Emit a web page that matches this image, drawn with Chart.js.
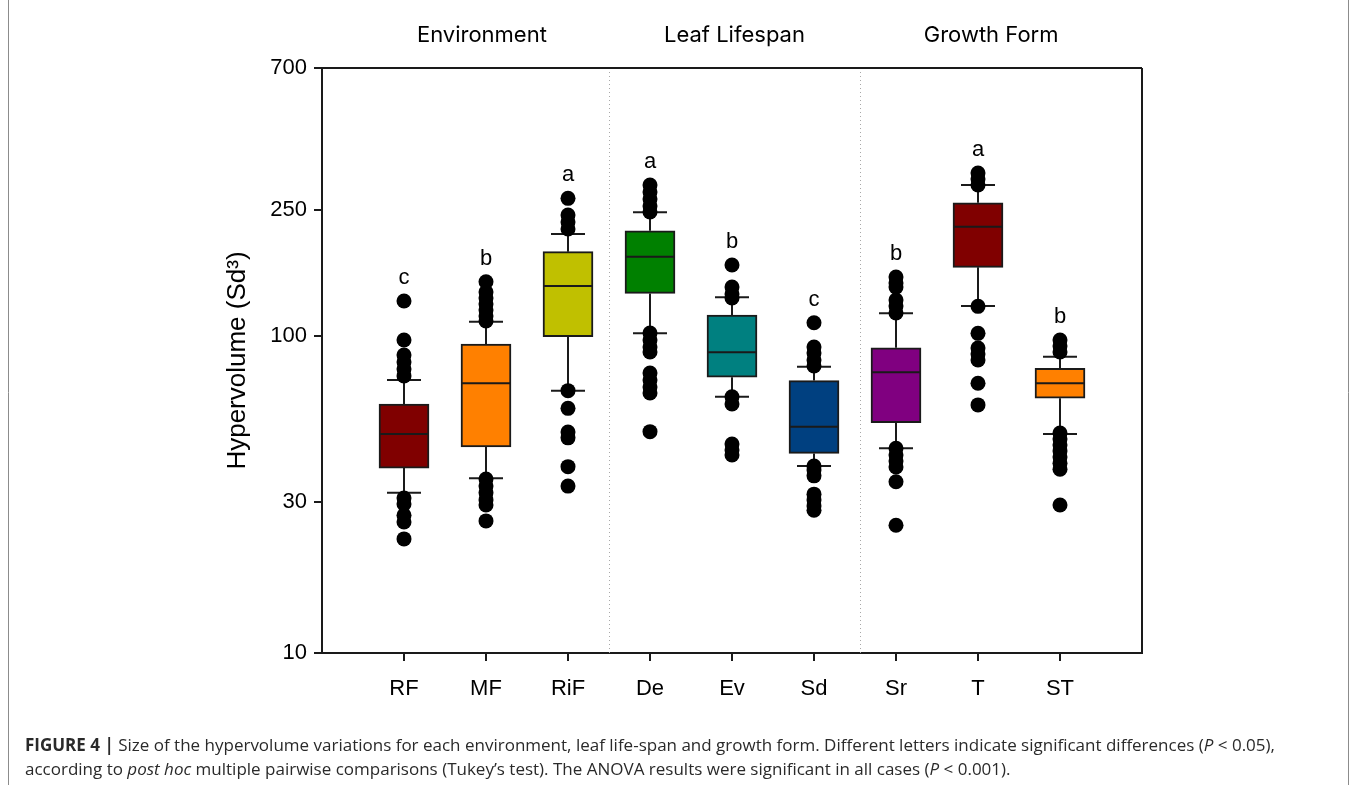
<!DOCTYPE html>
<html>
<head>
<meta charset="utf-8">
<script src="https://cdn.jsdelivr.net/npm/chart.js@4.4.0/dist/chart.umd.min.js"></script>
<style>
html, body { margin: 0; padding: 0; background: #fff; }
</style>
</head>
<body>
<canvas id="grafica" width="1357" height="785"></canvas>
<script>
// Categorías y colores de cada caja
var categories = ["RF", "MF", "RiF", "De", "Ev", "Sd", "Sr", "T", "ST"];
var boxColors = ["#800000", "#ff8000", "#c0c000", "#008000", "#008080", "#004080", "#800080", "#800000", "#ff8000"];

// Resumen de cada caja
var lowerWhisker = [32.0, 35.6, 67.2, 101.9, 64.3, 38.9, 44.2, 124.3, 49.1];
var q1 = [38.3, 44.7, 99.4, 136.2, 74.1, 42.6, 53.3, 164.6, 63.6];
var median = [49.1, 70.9, 143.7, 177.8, 88.8, 51.7, 76.8, 221.1, 70.9];
var q3 = [61.0, 94.3, 184.4, 214.7, 116.4, 72.3, 91.8, 263.1, 79.1];
var upperWhisker = [72.6, 110.9, 209.6, 245.5, 132.4, 80.0, 117.9, 299.2, 86.0];

// Valores atípicos por categoría
var outliers = [
    [128.9, 97.1, 87.1, 82.7, 78.6, 74.8, 30.8, 29.5, 27.2, 25.9, 22.9],
    [148.3, 137.6, 131.7, 126.1, 120.7, 115.6, 111.5, 35.4, 33.6, 32.0, 30.4, 29.3, 26.1],
    [271.6, 240.6, 228.7, 217.5, 67.2, 59.1, 49.8, 47.7, 38.7, 33.6],
    [299.2, 284.5, 270.4, 257.0, 246.0, 102.2, 97.1, 92.3, 89.0, 76.4, 72.6, 69.0, 66.1, 49.9],
    [167.4, 142.7, 135.6, 131.7, 64.3, 61.0, 45.6, 43.7, 42.1],
    [110.1, 92.3, 88.3, 84.0, 80.4, 38.9, 37.8, 36.2, 31.7, 30.4, 29.1, 28.2],
    [153.4, 146.9, 142.6, 129.8, 124.3, 118.1, 44.2, 42.1, 40.3, 38.6, 34.7, 25.3],
    [326.6, 312.6, 299.2, 124.0, 101.9, 91.6, 87.7, 84.0, 70.9, 60.6],
    [97.1, 92.9, 89.0, 49.4, 47.3, 45.3, 43.4, 41.5, 39.7, 38.0, 29.3]
];

var letters = ["c", "b", "a", "a", "b", "c", "b", "a", "b"];
var yTicks = [10, 30, 100, 250, 700];

var groups = ["Environment", "Leaf Lifespan", "Growth Form"];
var groupCenters = [1.95, 5.03, 8.16];
var groupBreaks = [3.5, 6.56];

var yTitle = "Hypervolume (Sd\u00b3)";

var lineColor = "#1a1a1a";

var outlierPoints = [];
outliers.forEach(function (vals, i) {
    vals.forEach(function (v) {
        outlierPoints.push({ x: i + 1, y: v });
    });
});

var boxData = categories.map(function (c, i) {
    return { x: i + 1, y: [q1[i], q3[i]] };
});

function line(ctx, x1, y1, x2, y2) {
    ctx.beginPath();
    ctx.moveTo(x1, y1);
    ctx.lineTo(x2, y2);
    ctx.stroke();
}

// bigotes, medianas, letras y textos
var boxPlugin = {
    id: "boxPlugin",
    beforeDatasetsDraw: function (chart) {
        var ctx = chart.ctx, xs = chart.scales.x, ys = chart.scales.y, area = chart.chartArea;
        ctx.save();
        ctx.strokeStyle = "#a8a8a8";
        ctx.lineWidth = 1;
        ctx.setLineDash([1, 3]);
        groupBreaks.forEach(function (b) {
            var px = Math.round(xs.getPixelForValue(b)) + 0.5;
            line(ctx, px, area.top, px, area.bottom);
        });
        ctx.setLineDash([]);
        ctx.strokeStyle = lineColor;
        ctx.lineWidth = 2;
        categories.forEach(function (c, i) {
            var cx = xs.getPixelForValue(i + 1);
            var yHi = ys.getPixelForValue(upperWhisker[i]);
            var yLo = ys.getPixelForValue(lowerWhisker[i]);
            line(ctx, cx, ys.getPixelForValue(q3[i]), cx, yHi);
            line(ctx, cx, ys.getPixelForValue(q1[i]), cx, yLo);
            line(ctx, cx - 17, yHi, cx + 17, yHi);
            line(ctx, cx - 17, yLo, cx + 17, yLo);
        });
        ctx.restore();
    },
    afterDatasetsDraw: function (chart) {
        var ctx = chart.ctx, xs = chart.scales.x, ys = chart.scales.y, area = chart.chartArea;
        ctx.save();
        ctx.strokeStyle = lineColor;
        ctx.lineWidth = 2;
        categories.forEach(function (c, i) {
            var cx = xs.getPixelForValue(i + 1);
            var my = ys.getPixelForValue(median[i]);
            line(ctx, cx - 25, my, cx + 25, my);
        });
        // marco superior y derecho
        line(ctx, area.left, area.top, area.right, area.top);
        line(ctx, area.right, area.top, area.right, area.bottom);

        ctx.fillStyle = "#000";
        ctx.font = "22px 'Liberation Sans', Arial, sans-serif";
        ctx.textAlign = "center";
        ctx.textBaseline = "middle";
        letters.forEach(function (l, i) {
            var top = Math.max.apply(null, outliers[i]);
            ctx.fillText(l, xs.getPixelForValue(i + 1), ys.getPixelForValue(top) - 23);
        });
        ctx.restore();
    },
    afterDraw: function (chart) {
        var ctx = chart.ctx, xs = chart.scales.x;
        ctx.save();
        ctx.fillStyle = "#000";
        ctx.font = "22px Inter, 'Noto Sans', sans-serif";
        ctx.textAlign = "center";
        ctx.textBaseline = "middle";
        groups.forEach(function (g, i) {
            ctx.fillText(g, xs.getPixelForValue(groupCenters[i]), 35);
        });

        // borde de la figura
        ctx.strokeStyle = "#8c8c8c";
        ctx.lineWidth = 1;
        line(ctx, 8.5, 0, 8.5, 785);
        line(ctx, 1348.5, 0, 1348.5, 785);

        // pie de figura
        var caption = [
            [["bold", "FIGURE 4 | "], ["normal", "Size of the hypervolume variations for each environment, leaf life-span and growth form. Different letters indicate significant differences ("], ["italic", "P"], ["normal", " < 0.05),"]],
            [["normal", "according to "], ["italic", "post hoc"], ["normal", " multiple pairwise comparisons (Tukey\u2019s test). The ANOVA results were significant in all cases ("], ["italic", "P"], ["normal", " < 0.001)."]]
        ];
        var lineYs = [746, 770];
        ctx.textAlign = "left";
        ctx.fillStyle = "#2a2a2a";
        caption.forEach(function (parts, j) {
            var px = 25;
            parts.forEach(function (p) {
                ctx.font = p[0] + " 17px 'Open Sans', 'Liberation Sans', sans-serif";
                ctx.fillText(p[1], px, lineYs[j]);
                px += ctx.measureText(p[1]).width;
            });
        });
        ctx.restore();
    }
};

var config = {
    type: "bar",
    data: {
        datasets: [{
            type: "scatter",
            data: outlierPoints,
            pointRadius: 7.5,
            pointBackgroundColor: "#000",
            pointBorderColor: "#000",
            pointBorderWidth: 0,
            order: 0
        }, {
            type: "bar",
            data: boxData,
            backgroundColor: boxColors,
            borderColor: lineColor,
            borderWidth: 2,
            borderSkipped: false,
            barThickness: 50,
            order: 1
        }]
    },
    options: {
        responsive: false,
        animation: false,
        layout: { padding: { left: 222, right: 215, top: 68, bottom: 0 } },
        plugins: {
            legend: { display: false },
            tooltip: { enabled: false }
        },
        scales: {
            x: {
                type: "linear",
                min: 0,
                max: 10,
                offset: false,
                afterFit: function (s) { s.height = 132; },
                afterBuildTicks: function (s) {
                    s.ticks = categories.map(function (c, i) { return { value: i + 1 }; });
                },
                ticks: {
                    color: "#000",
                    padding: 15,
                    font: { family: "'Liberation Sans', Arial, sans-serif", size: 22 },
                    callback: function (v) { return categories[v - 1]; }
                },
                grid: { drawOnChartArea: false, offset: false, tickLength: 8, color: lineColor, lineWidth: 2 },
                border: { color: lineColor, width: 2 }
            },
            y: {
                type: "logarithmic",
                min: 10,
                max: 700,
                afterFit: function (s) { s.width = 100; },
                afterBuildTicks: function (s) {
                    s.ticks = yTicks.map(function (v) { return { value: v }; });
                },
                ticks: {
                    color: "#000",
                    padding: 7,
                    font: { family: "'Liberation Sans', Arial, sans-serif", size: 22 },
                    callback: function (v) { return String(v); }
                },
                grid: { drawOnChartArea: false, tickLength: 8, color: lineColor, lineWidth: 2 },
                border: { color: lineColor, width: 2 },
                title: {
                    display: true,
                    text: yTitle,
                    color: "#000",
                    padding: 0,
                    font: { family: "'Liberation Sans', Arial, sans-serif", size: 26 }
                }
            }
        }
    },
    plugins: [boxPlugin]
};

var grafica = new Chart(document.getElementById("grafica"), config);
</script>
</body>
</html>
